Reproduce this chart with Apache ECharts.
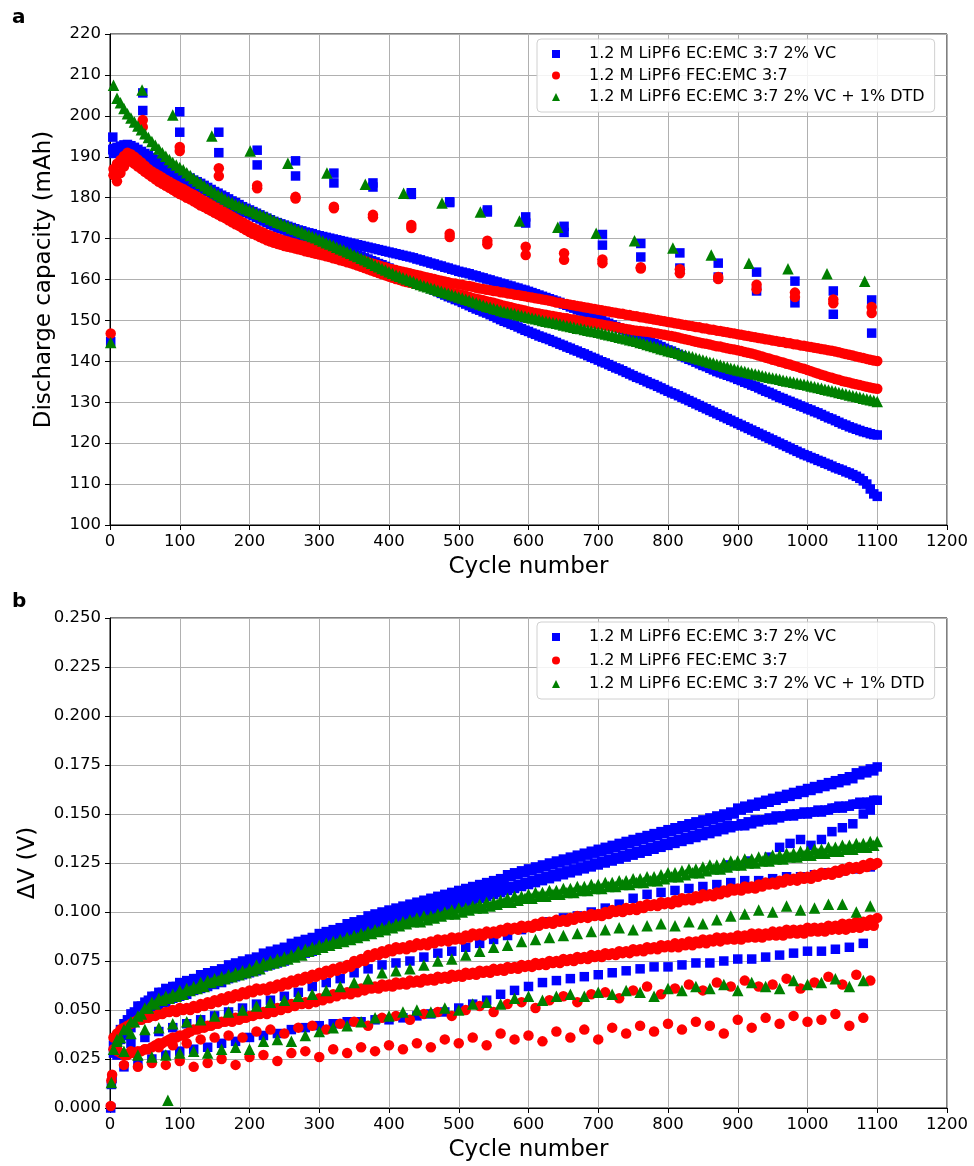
<!DOCTYPE html>
<html>
<head>
<meta charset="utf-8">
<title>capacity and dV</title>
<script src="https://cdn.jsdelivr.net/npm/echarts@6/dist/echarts.min.js"></script>
<style>
  body { margin: 0; background: #fff; }
  #chart { width: 974px; height: 1166px; }
</style>
</head>
<body>
<div id="chart"></div>
<script>
// legend names
var nameVC  = '1.2 M LiPF6 EC:EMC 3:7 2% VC';
var nameFEC = '1.2 M LiPF6 FEC:EMC 3:7';
var nameDTD = '1.2 M LiPF6 EC:EMC 3:7 2% VC + 1% DTD';

// cycle numbers of the dense series (two interleaved sets)
var cyc10 = [
  5,15,25,35,45,55,65,75,85,95,
  105,115,125,135,145,155,165,175,185,195,
  205,215,225,235,245,255,265,275,285,295,
  305,315,325,335,345,355,365,375,385,395,
  405,415,425,435,445,455,465,475,485,495,
  505,515,525,535,545,555,565,575,585,595,
  605,615,625,635,645,655,665,675,685,695,
  705,715,725,735,745,755,765,775,785,795,
  805,815,825,835,845,855,865,875,885,895,
  905,915,925,935,945,955,965,975,985,995,
  1005,1015,1025,1035,1045,1055,1065,1075,1085,1095
];
var cyc10b = [
  10,20,30,40,50,60,70,80,90,100,
  110,120,130,140,150,160,170,180,190,200,
  210,220,230,240,250,260,270,280,290,300,
  310,320,330,340,350,360,370,380,390,400,
  410,420,430,440,450,460,470,480,490,500,
  510,520,530,540,550,560,570,580,590,600,
  610,620,630,640,650,660,670,680,690,700,
  710,720,730,740,750,760,770,780,790,800,
  810,820,830,840,850,860,870,880,890,900,
  910,920,930,940,950,960,970,980,990,1000,
  1010,1020,1030,1040,1050,1060,1070,1080,1090,1100
];
// cycle numbers of the sparse series
var sp20 = [
  10,30,50,70,90,110,130,150,170,190,
  210,230,250,270,290,310,330,350,370,390,
  410,430,450,470,490,510,530,550,570,590,
  610,630,650,670,690,710,730,750,770,790,
  810,830,850,870,890,910,930,950,970,990,
  1010,1030,1050,1070,1090
];
var sp20b = [
  20,40,60,80,100,120,140,160,180,200,
  220,240,260,280,300,320,340,360,380,400,
  420,440,460,480,500,520,540,560,580,600,
  620,640,660,680,700,720,740,760,780,800,
  820,840,860,880,900,920,940,960,980,1000,
  1020,1040,1060,1080
];

// ---- panel a : discharge capacity (mAh) ----
var capBlueA = [
  192.0,192.6,193.0,192.3,191.3,190.3,189.4,188.5,187.6,186.7,
  185.7,184.8,183.9,183.0,182.0,181.1,180.2,179.2,178.3,177.4,
  176.6,175.8,175.0,174.2,173.6,173.0,172.4,171.9,171.4,170.9,
  170.5,170.1,169.7,169.3,168.9,168.5,168.1,167.7,167.3,166.9,
  166.5,166.1,165.7,165.3,164.8,164.3,163.8,163.3,162.8,162.3,
  161.8,161.4,160.9,160.4,159.9,159.4,158.9,158.4,157.9,157.4,
  156.8,156.2,155.6,155.0,154.4,153.7,153.0,152.3,151.6,150.8,
  150.0,149.3,148.5,147.8,147.0,146.3,145.5,144.7,144.0,143.2,
  142.5,141.7,140.9,140.2,139.4,138.7,137.9,137.2,136.6,136.0,
  135.3,134.6,133.9,133.1,132.4,131.6,130.9,130.2,129.5,128.8,
  128.1,127.4,126.6,125.9,125.1,124.4,123.7,123.1,122.6,122.1
];
var capBlueA2 = [
  192.3,192.9,192.7,191.8,190.8,189.8,188.9,188.1,187.1,186.2,
  185.2,184.3,183.5,182.5,181.5,180.6,179.7,178.8,177.8,177.0,
  176.2,175.4,174.6,173.9,173.3,172.7,172.1,171.6,171.2,170.7,
  170.3,169.9,169.5,169.1,168.7,168.3,167.9,167.5,167.1,166.7,
  166.3,165.9,165.5,165.0,164.5,164.0,163.5,163.0,162.5,162.0,
  161.6,161.1,160.6,160.1,159.6,159.1,158.6,158.1,157.6,157.1,
  156.5,155.9,155.3,154.7,154.0,153.3,152.6,151.9,151.2,150.4,
  149.6,148.9,148.1,147.4,146.6,145.9,145.1,144.3,143.6,142.8,
  142.1,141.3,140.5,139.8,139.0,138.3,137.5,136.9,136.3,135.6,
  134.9,134.2,133.5,132.7,132.0,131.2,130.5,129.8,129.1,128.4,
  127.7,127.0,126.2,125.5,124.7,124.0,123.4,122.8,122.3,122.0
];
var capBlueB = [
  190.8,191.6,192.2,191.5,190.6,189.6,188.6,187.6,186.6,185.6,
  184.6,183.7,182.8,181.9,181.0,180.0,178.8,177.6,177.0,176.4,
  175.6,174.8,173.9,173.1,172.4,171.8,171.2,170.6,170.0,169.5,
  169.0,168.4,167.8,167.2,166.6,166.0,165.3,164.6,163.9,163.2,
  162.4,161.6,160.7,159.9,159.0,158.2,157.4,156.6,155.8,155.1,
  154.4,153.6,152.8,152.1,151.4,150.6,149.8,149.1,148.4,147.6,
  146.9,146.2,145.6,144.9,144.2,143.5,142.8,142.1,141.4,140.7,
  139.9,139.2,138.4,137.7,136.9,136.1,135.4,134.6,133.9,133.1,
  132.3,131.6,130.8,130.0,129.2,128.4,127.6,126.8,126.0,125.2,
  124.4,123.6,122.8,122.0,121.2,120.4,119.6,118.8,118.0,117.2,
  116.5,115.8,115.1,114.4,113.7,113.0,112.3,111.4,110.0,107.6
];
var capBlueB2 = [
  191.2,191.9,191.9,191.0,190.1,189.1,188.1,187.1,186.1,185.1,
  184.2,183.3,182.4,181.5,180.5,179.4,178.2,177.3,176.7,176.0,
  175.2,174.3,173.5,172.7,172.1,171.5,170.9,170.3,169.8,169.3,
  168.7,168.1,167.5,166.9,166.3,165.7,165.0,164.3,163.6,162.8,
  162.0,161.1,160.3,159.5,158.6,157.8,157.0,156.2,155.5,154.8,
  154.0,153.2,152.5,151.8,151.0,150.2,149.5,148.8,148.0,147.3,
  146.6,145.9,145.3,144.6,143.9,143.2,142.5,141.8,141.0,140.3,
  139.6,138.8,138.1,137.3,136.5,135.8,135.0,134.3,133.5,132.7,
  132.0,131.2,130.4,129.6,128.8,128.0,127.2,126.4,125.6,124.8,
  124.0,123.2,122.4,121.6,120.8,120.0,119.2,118.4,117.6,116.9,
  116.2,115.5,114.8,114.0,113.4,112.7,111.9,110.8,108.8,107.0
];
var capRedA = [
  187.0,189.2,191.0,190.0,188.6,187.0,185.9,184.9,183.9,183.0,
  182.1,181.1,180.2,179.2,178.3,177.4,176.4,175.4,174.4,173.5,
  172.6,171.8,171.0,170.4,169.8,169.3,168.8,168.3,167.9,167.5,
  167.1,166.7,166.3,165.9,165.5,165.0,164.5,164.0,163.5,163.0,
  162.5,162.1,161.7,161.3,160.9,160.5,160.1,159.7,159.3,159.0,
  158.7,158.4,158.0,157.7,157.4,157.1,156.8,156.5,156.2,155.9,
  155.6,155.3,155.0,154.6,154.3,154.0,153.7,153.4,153.1,152.8,
  152.5,152.2,151.9,151.6,151.3,151.0,150.7,150.4,150.1,149.8,
  149.5,149.2,148.9,148.6,148.3,148.0,147.7,147.4,147.1,146.8,
  146.5,146.2,145.9,145.6,145.3,145.0,144.7,144.4,144.1,143.8,
  143.5,143.2,142.9,142.6,142.2,141.8,141.4,141.0,140.6,140.2
];
var capRedA2 = [
  188.3,190.2,190.6,189.3,187.8,186.4,185.4,184.4,183.4,182.5,
  181.6,180.7,179.7,178.8,177.8,176.9,175.9,174.9,174.0,173.0,
  172.2,171.4,170.7,170.1,169.5,169.0,168.5,168.1,167.7,167.3,
  166.9,166.5,166.1,165.7,165.2,164.7,164.2,163.7,163.2,162.7,
  162.3,161.9,161.5,161.1,160.7,160.3,159.9,159.5,159.1,158.8,
  158.5,158.2,157.8,157.5,157.2,156.9,156.6,156.3,156.0,155.7,
  155.4,155.1,154.8,154.4,154.1,153.8,153.5,153.2,152.9,152.6,
  152.3,152.0,151.7,151.4,151.1,150.8,150.5,150.2,149.9,149.6,
  149.3,149.0,148.7,148.4,148.1,147.8,147.5,147.2,146.9,146.6,
  146.3,146.0,145.7,145.4,145.1,144.8,144.5,144.2,143.9,143.6,
  143.3,143.0,142.7,142.4,142.0,141.6,141.2,140.8,140.4,140.1
];
var capRedB = [
  185.5,186.0,189.0,188.3,187.0,185.7,184.5,183.4,182.4,181.4,
  180.5,179.6,178.6,177.7,176.8,175.9,175.0,174.0,173.1,172.1,
  171.2,170.4,169.6,169.0,168.5,168.0,167.6,167.2,166.7,166.3,
  165.9,165.5,165.0,164.5,164.0,163.4,162.8,162.2,161.6,161.0,
  160.4,159.9,159.4,159.0,158.6,158.2,157.8,157.4,157.0,156.6,
  156.2,155.8,155.3,154.9,154.5,154.1,153.6,153.2,152.8,152.4,
  152.0,151.7,151.4,151.1,150.8,150.5,150.2,149.9,149.6,149.3,
  149.0,148.7,148.4,148.1,147.8,147.5,147.3,147.1,146.8,146.5,
  146.2,145.8,145.4,145.0,144.6,144.3,143.9,143.6,143.2,142.9,
  142.5,142.1,141.7,141.2,140.7,140.2,139.7,139.2,138.7,138.2,
  137.6,137.0,136.5,136.0,135.5,135.0,134.6,134.2,133.8,133.4
];
var capRedB2 = [
  184.0,187.6,188.8,187.6,186.3,185.1,183.9,182.9,181.9,180.9,
  180.0,179.1,178.1,177.2,176.3,175.4,174.5,173.5,172.6,171.6,
  170.8,170.0,169.3,168.7,168.2,167.8,167.4,166.9,166.5,166.1,
  165.7,165.2,164.7,164.2,163.7,163.1,162.5,161.9,161.3,160.7,
  160.1,159.6,159.2,158.8,158.4,158.0,157.6,157.2,156.8,156.4,
  156.0,155.5,155.1,154.7,154.3,153.8,153.4,153.0,152.6,152.2,
  151.8,151.5,151.2,150.9,150.6,150.3,150.0,149.7,149.4,149.1,
  148.8,148.5,148.2,147.9,147.6,147.4,147.2,146.9,146.6,146.3,
  146.0,145.6,145.2,144.8,144.4,144.1,143.7,143.4,143.0,142.7,
  142.3,141.9,141.4,140.9,140.4,139.9,139.4,138.9,138.4,137.9,
  137.3,136.7,136.2,135.7,135.2,134.8,134.4,134.0,133.6,133.3
];
var capGreen = [
  207.5,203.2,200.5,198.5,196.6,194.7,192.8,191.0,189.3,188.0,
  186.8,185.4,184.1,182.9,181.8,180.7,179.7,178.8,178.0,177.3,
  176.6,175.9,175.2,174.4,173.7,173.0,172.3,171.6,170.9,170.2,
  169.4,168.7,167.9,167.2,166.4,165.6,164.8,164.0,163.1,162.3,
  161.5,160.8,160.1,159.5,158.8,158.2,157.7,157.1,156.6,156.0,
  155.5,154.9,154.3,153.7,153.2,152.7,152.2,151.8,151.4,151.0,
  150.6,150.2,149.8,149.5,149.1,148.7,148.3,148.0,147.6,147.3,
  146.9,146.5,146.1,145.7,145.3,144.9,144.4,143.9,143.4,142.9,
  142.4,142.0,141.5,141.1,140.6,140.1,139.6,139.1,138.6,138.1,
  137.7,137.3,136.9,136.5,136.1,135.8,135.4,135.1,134.7,134.4,
  134.0,133.6,133.2,132.8,132.4,132.0,131.6,131.2,130.8,130.4
];
var capGreen2 = [
  204.3,201.8,199.5,197.5,195.6,193.7,191.9,190.1,188.6,187.4,
  186.1,184.7,183.5,182.3,181.2,180.2,179.2,178.4,177.6,176.9,
  176.2,175.5,174.8,174.0,173.3,172.6,171.9,171.2,170.5,169.8,
  169.0,168.3,167.5,166.8,166.0,165.2,164.4,163.5,162.7,161.9,
  161.1,160.4,159.8,159.1,158.5,157.9,157.4,156.8,156.3,155.7,
  155.2,154.6,154.0,153.4,152.9,152.4,152.0,151.6,151.2,150.8,
  150.4,150.0,149.6,149.3,148.9,148.5,148.1,147.8,147.4,147.1,
  146.7,146.3,145.9,145.5,145.1,144.6,144.1,143.6,143.1,142.6,
  142.2,141.7,141.3,140.8,140.3,139.8,139.3,138.8,138.3,137.9,
  137.5,137.1,136.7,136.3,135.9,135.6,135.2,134.9,134.5,134.2,
  133.8,133.4,133.0,132.6,132.2,131.8,131.4,131.0,130.6,130.2
];

// slow check-up cycles (two cells per electrolyte)
var rptCycBlue = [4,47,100,156,211,266,321,377,432,487,541,596,651,706,761,817,872,927,982,1037,1092];
var rptBlueHi  = [194.8,205.6,201.0,196.0,191.6,189.0,186.0,183.6,181.2,179.0,177.0,175.3,173.0,171.0,168.8,166.5,164.0,161.8,159.6,157.2,155.0];
var rptBlueLo  = [191.7,201.3,196.0,191.0,188.0,185.3,183.6,182.6,180.8,178.8,176.5,173.8,171.5,168.4,165.5,162.8,160.6,157.2,154.3,151.5,146.9];
var rptCycRed  = [47,100,156,211,266,321,377,432,487,541,596,651,706,761,817,872,927,982,1037,1092];
var rptRedHi   = [199.0,192.4,187.2,183.0,180.2,177.8,175.8,173.3,171.2,169.5,168.0,166.4,164.9,163.0,162.5,160.6,158.7,156.8,155.1,153.3];
var rptRedLo   = [197.3,191.4,185.3,182.3,179.8,177.4,175.2,172.6,170.4,168.6,166.0,164.8,164.0,162.7,161.5,160.1,157.6,155.7,154.2,151.8];
var rptCycGreen = [46,90,146,201,255,311,366,421,476,531,587,642,697,752,807,862,916,972,1028,1082];
var rptGreen    = [206.3,200.2,195.1,191.4,188.4,186.0,183.3,181.1,178.7,176.5,174.3,172.8,171.3,169.5,167.7,166.0,164.0,162.6,161.4,159.6];

// formation cycle
var formCyc = [1];
var formBlue = [144.8];
var formRed = [146.8];
var formGreen = [144.6];

// ---- panel b : delta V (V) ----
var dvBlueA = [
  0.032,0.040,0.045,0.049,0.052,0.055,0.057,0.059,0.060,0.062,
  0.063,0.064,0.066,0.067,0.068,0.069,0.070,0.072,0.073,0.074,
  0.075,0.076,0.078,0.079,0.080,0.081,0.083,0.084,0.085,0.086,
  0.088,0.089,0.090,0.091,0.093,0.094,0.095,0.097,0.098,0.099,
  0.100,0.101,0.102,0.103,0.104,0.105,0.106,0.107,0.108,0.109,
  0.110,0.111,0.112,0.113,0.114,0.115,0.116,0.118,0.119,0.120,
  0.121,0.122,0.123,0.124,0.125,0.126,0.127,0.128,0.129,0.130,
  0.131,0.132,0.133,0.134,0.135,0.136,0.137,0.138,0.139,0.140,
  0.141,0.142,0.143,0.144,0.145,0.146,0.147,0.148,0.149,0.150,
  0.152,0.153,0.154,0.155,0.156,0.157,0.158,0.159,0.160,0.161,
  0.162,0.163,0.164,0.165,0.166,0.167,0.168,0.170,0.171,0.172
];
var dvBlueA2 = [
  0.036,0.043,0.048,0.052,0.054,0.057,0.059,0.061,0.062,0.064,
  0.065,0.066,0.068,0.069,0.070,0.071,0.073,0.074,0.075,0.076,
  0.077,0.079,0.080,0.081,0.082,0.084,0.085,0.086,0.087,0.089,
  0.090,0.091,0.092,0.094,0.095,0.096,0.098,0.099,0.100,0.101,
  0.102,0.103,0.104,0.105,0.106,0.107,0.108,0.109,0.110,0.111,
  0.112,0.113,0.114,0.115,0.116,0.117,0.119,0.120,0.121,0.122,
  0.123,0.124,0.125,0.126,0.127,0.128,0.129,0.130,0.131,0.132,
  0.133,0.134,0.135,0.136,0.137,0.138,0.139,0.140,0.141,0.142,
  0.143,0.144,0.145,0.146,0.147,0.148,0.149,0.150,0.151,0.153,
  0.154,0.155,0.156,0.157,0.158,0.159,0.160,0.161,0.162,0.163,
  0.164,0.165,0.166,0.167,0.168,0.169,0.171,0.172,0.173,0.174
];
var dvBlueB = [
  0.028,0.035,0.040,0.044,0.047,0.050,0.052,0.054,0.056,0.058,
  0.059,0.060,0.062,0.063,0.064,0.065,0.066,0.068,0.069,0.070,
  0.071,0.072,0.074,0.075,0.076,0.077,0.079,0.080,0.081,0.082,
  0.084,0.085,0.086,0.087,0.089,0.090,0.091,0.093,0.094,0.095,
  0.096,0.097,0.098,0.099,0.100,0.101,0.102,0.103,0.104,0.105,
  0.106,0.107,0.108,0.109,0.110,0.111,0.112,0.113,0.114,0.115,
  0.116,0.117,0.118,0.119,0.120,0.121,0.122,0.123,0.124,0.125,
  0.126,0.127,0.128,0.129,0.130,0.131,0.132,0.133,0.134,0.135,
  0.136,0.137,0.138,0.139,0.140,0.141,0.142,0.143,0.144,0.144,
  0.145,0.146,0.147,0.147,0.148,0.149,0.149,0.150,0.150,0.151,
  0.151,0.152,0.152,0.153,0.154,0.154,0.155,0.156,0.156,0.157
];
var dvBlueB2 = [
  0.030,0.037,0.041,0.045,0.048,0.050,0.052,0.054,0.056,0.057,
  0.058,0.060,0.061,0.062,0.063,0.064,0.066,0.067,0.068,0.069,
  0.070,0.072,0.073,0.074,0.075,0.077,0.078,0.079,0.080,0.082,
  0.083,0.084,0.085,0.087,0.088,0.089,0.091,0.092,0.093,0.094,
  0.095,0.096,0.097,0.098,0.099,0.100,0.101,0.102,0.103,0.104,
  0.105,0.106,0.107,0.108,0.109,0.110,0.111,0.112,0.113,0.114,
  0.115,0.116,0.117,0.118,0.119,0.120,0.121,0.122,0.123,0.124,
  0.125,0.126,0.127,0.128,0.129,0.130,0.131,0.132,0.133,0.134,
  0.135,0.136,0.137,0.138,0.139,0.140,0.141,0.142,0.143,0.144,
  0.144,0.145,0.146,0.147,0.147,0.148,0.149,0.149,0.150,0.150,
  0.151,0.151,0.152,0.153,0.153,0.154,0.155,0.155,0.156,0.157
];
var dvBlueC = [
  0.027,0.033,0.036,0.039,0.041,0.043,0.045,0.047,0.049,0.051,
  0.053,0.055,0.057,0.059,0.062,0.064,0.066,0.069,0.071,0.073,
  0.074,0.075,0.077,0.079,0.080,0.082,0.084,0.086,0.088,0.091,
  0.093,0.095,0.097,0.098,0.100,0.102,0.104,0.107,0.109,0.110,
  0.111,0.112,0.113,0.114,0.115,0.116,0.116,0.117,0.118,0.118,
  0.119,0.120,0.121,0.122,0.123
];
var dvBlueD = [
  0.021,0.023,0.025,0.027,0.029,0.030,0.031,0.033,0.034,0.036,
  0.037,0.038,0.040,0.041,0.042,0.043,0.044,0.044,0.045,0.045,
  0.046,0.047,0.048,0.049,0.051,0.053,0.055,0.058,0.060,0.062,
  0.064,0.065,0.066,0.067,0.068,0.069,0.070,0.071,0.072,0.072,
  0.073,0.074,0.074,0.075,0.076,0.076,0.077,0.078,0.079,0.080,
  0.080,0.081,0.082,0.084,0.087
];
var dvBlueECyc = [885,915,945,960,975,990,1005,1020,1035,1050,1065,1080,1090];
var dvBlueE    = [0.124,0.126,0.128,0.133,0.135,0.137,0.134,0.137,0.141,0.143,0.145,0.150,0.152];

var dvRedA = [
  0.036,0.040,0.042,0.044,0.045,0.046,0.047,0.048,0.049,0.049,
  0.050,0.050,0.051,0.052,0.053,0.054,0.055,0.056,0.057,0.058,
  0.059,0.060,0.060,0.061,0.062,0.063,0.064,0.065,0.066,0.067,
  0.068,0.069,0.070,0.071,0.072,0.074,0.075,0.077,0.078,0.079,
  0.080,0.081,0.081,0.082,0.083,0.083,0.084,0.085,0.085,0.086,
  0.086,0.087,0.088,0.088,0.089,0.089,0.090,0.091,0.091,0.092,
  0.092,0.093,0.094,0.094,0.095,0.095,0.096,0.097,0.097,0.098,
  0.098,0.099,0.100,0.100,0.101,0.101,0.102,0.103,0.103,0.104,
  0.104,0.105,0.106,0.106,0.107,0.108,0.108,0.109,0.110,0.111,
  0.111,0.112,0.112,0.113,0.114,0.114,0.115,0.116,0.116,0.117,
  0.117,0.118,0.119,0.119,0.120,0.121,0.122,0.122,0.123,0.124
];
var dvRedA2 = [
  0.038,0.041,0.043,0.045,0.046,0.047,0.048,0.049,0.050,0.051,
  0.051,0.052,0.053,0.054,0.055,0.056,0.057,0.058,0.059,0.060,
  0.061,0.061,0.062,0.063,0.064,0.065,0.066,0.067,0.068,0.069,
  0.070,0.071,0.072,0.073,0.075,0.076,0.078,0.079,0.080,0.081,
  0.082,0.082,0.083,0.084,0.084,0.085,0.086,0.086,0.087,0.087,
  0.088,0.089,0.089,0.090,0.090,0.091,0.092,0.092,0.093,0.093,
  0.094,0.095,0.095,0.096,0.096,0.097,0.098,0.098,0.099,0.099,
  0.100,0.101,0.101,0.102,0.102,0.103,0.104,0.104,0.105,0.105,
  0.106,0.107,0.107,0.108,0.109,0.109,0.110,0.111,0.112,0.112,
  0.113,0.113,0.114,0.115,0.115,0.116,0.117,0.117,0.118,0.118,
  0.119,0.120,0.120,0.121,0.122,0.123,0.123,0.124,0.125,0.125
];
var dvRedB = [
  0.030,0.028,0.027,0.028,0.029,0.030,0.032,0.033,0.035,0.036,
  0.037,0.039,0.040,0.041,0.042,0.043,0.044,0.044,0.045,0.046,
  0.047,0.048,0.048,0.049,0.050,0.051,0.052,0.053,0.053,0.054,
  0.055,0.056,0.057,0.058,0.058,0.059,0.060,0.061,0.061,0.062,
  0.062,0.063,0.063,0.064,0.064,0.065,0.065,0.066,0.066,0.067,
  0.067,0.068,0.068,0.069,0.069,0.070,0.070,0.071,0.071,0.072,
  0.072,0.073,0.073,0.074,0.074,0.075,0.075,0.076,0.076,0.077,
  0.077,0.078,0.078,0.079,0.079,0.080,0.080,0.081,0.081,0.082,
  0.082,0.082,0.083,0.083,0.084,0.084,0.085,0.085,0.086,0.086,
  0.086,0.087,0.087,0.087,0.088,0.088,0.088,0.089,0.089,0.089,
  0.090,0.090,0.090,0.091,0.091,0.091,0.092,0.092,0.093,0.093
];
var dvRedB2 = [
  0.029,0.027,0.028,0.029,0.030,0.031,0.033,0.034,0.036,0.037,
  0.038,0.040,0.041,0.042,0.043,0.044,0.045,0.046,0.046,0.047,
  0.048,0.049,0.050,0.051,0.052,0.053,0.054,0.054,0.055,0.056,
  0.057,0.058,0.059,0.059,0.060,0.061,0.062,0.062,0.063,0.063,
  0.064,0.064,0.065,0.065,0.066,0.066,0.067,0.067,0.068,0.068,
  0.069,0.069,0.070,0.070,0.071,0.071,0.072,0.072,0.073,0.073,
  0.074,0.074,0.075,0.075,0.076,0.076,0.077,0.077,0.078,0.078,
  0.079,0.079,0.080,0.080,0.081,0.081,0.082,0.082,0.083,0.083,
  0.084,0.084,0.085,0.085,0.086,0.086,0.087,0.087,0.087,0.088,
  0.088,0.089,0.089,0.089,0.090,0.090,0.091,0.091,0.091,0.092,
  0.092,0.092,0.093,0.093,0.094,0.094,0.095,0.095,0.096,0.097
];
var dvRedC = [
  0.030,0.029,0.030,0.031,0.032,0.033,0.035,0.036,0.037,0.036,
  0.039,0.040,0.038,0.041,0.042,0.040,0.043,0.044,0.042,0.046,
  0.047,0.045,0.048,0.049,0.047,0.050,0.052,0.049,0.053,0.054,
  0.051,0.055,0.057,0.054,0.058,0.059,0.056,0.060,0.062,0.058,
  0.061,0.063,0.060,0.064,0.062,0.065,0.062,0.063,0.066,0.061,
  0.064,0.067,0.063,0.068,0.065
];
var dvRedD = [
  0.022,0.021,0.023,0.022,0.024,0.021,0.023,0.025,0.022,0.026,
  0.027,0.024,0.028,0.029,0.026,0.030,0.028,0.031,0.029,0.032,
  0.030,0.033,0.031,0.035,0.033,0.036,0.032,0.038,0.035,0.037,
  0.034,0.039,0.036,0.040,0.035,0.041,0.038,0.042,0.039,0.043,
  0.040,0.044,0.042,0.038,0.045,0.041,0.046,0.043,0.047,0.044,
  0.045,0.048,0.042,0.046
];

var dvGreenA = [
  0.030,0.036,0.041,0.044,0.048,0.051,0.053,0.055,0.056,0.057,
  0.058,0.060,0.061,0.062,0.064,0.065,0.066,0.067,0.068,0.069,
  0.070,0.071,0.073,0.074,0.075,0.076,0.077,0.078,0.080,0.081,
  0.082,0.083,0.084,0.085,0.086,0.087,0.088,0.089,0.090,0.091,
  0.092,0.093,0.094,0.095,0.095,0.096,0.097,0.098,0.099,0.099,
  0.100,0.101,0.102,0.102,0.103,0.104,0.105,0.105,0.106,0.107,
  0.107,0.108,0.108,0.109,0.109,0.110,0.110,0.111,0.111,0.112,
  0.112,0.113,0.113,0.114,0.114,0.115,0.115,0.116,0.116,0.117,
  0.118,0.118,0.119,0.120,0.120,0.121,0.122,0.122,0.123,0.124,
  0.124,0.125,0.125,0.126,0.126,0.127,0.127,0.128,0.128,0.129,
  0.129,0.130,0.130,0.131,0.131,0.132,0.132,0.133,0.133,0.134
];
var dvGreenA2 = [
  0.034,0.040,0.044,0.047,0.051,0.054,0.056,0.057,0.058,0.060,
  0.061,0.062,0.064,0.065,0.066,0.067,0.068,0.069,0.070,0.071,
  0.073,0.074,0.075,0.076,0.077,0.078,0.080,0.081,0.082,0.083,
  0.084,0.085,0.086,0.087,0.088,0.089,0.090,0.091,0.092,0.093,
  0.094,0.095,0.096,0.097,0.098,0.098,0.099,0.100,0.101,0.102,
  0.102,0.103,0.104,0.105,0.105,0.106,0.107,0.108,0.108,0.109,
  0.110,0.110,0.111,0.111,0.112,0.112,0.113,0.113,0.114,0.114,
  0.115,0.115,0.116,0.116,0.117,0.117,0.118,0.118,0.119,0.120,
  0.120,0.121,0.122,0.122,0.123,0.124,0.124,0.125,0.126,0.126,
  0.127,0.127,0.128,0.128,0.129,0.129,0.130,0.130,0.131,0.131,
  0.132,0.132,0.133,0.133,0.134,0.134,0.135,0.135,0.136,0.136
];
var dvGreenB = [
  0.035,0.038,0.040,0.041,0.043,0.044,0.045,0.047,0.049,0.050,
  0.052,0.054,0.055,0.057,0.058,0.060,0.062,0.064,0.066,0.069,
  0.070,0.071,0.073,0.075,0.076,0.078,0.080,0.082,0.083,0.085,
  0.086,0.087,0.088,0.089,0.090,0.091,0.092,0.091,0.093,0.094,
  0.093,0.095,0.094,0.096,0.098,0.099,0.101,0.100,0.103,0.101,
  0.102,0.104,0.104,0.100,0.103
];
var dvGreenC = [
  0.029,0.027,0.026,0.027,0.028,0.029,0.028,0.030,0.031,0.030,
  0.034,0.035,0.034,0.037,0.039,0.041,0.042,0.044,0.046,0.047,
  0.049,0.050,0.049,0.051,0.050,0.053,0.054,0.053,0.056,0.057,
  0.055,0.057,0.058,0.057,0.059,0.058,0.060,0.059,0.057,0.061,
  0.060,0.062,0.061,0.063,0.060,0.064,0.062,0.061,0.065,0.063,
  0.064,0.066,0.062,0.065
];

// first cycles / outliers near zero
var lowCyc = [1, 2, 3];
var lowBlue = [0.000, 0.012, 0.015];
var lowRed = [0.001, 0.014, 0.017];
var lowGreenCyc = [2, 83];
var lowGreen = [0.013, 0.004];

var blue = '#0000ff', red = '#ff0000', green = '#008000';
var fontName = 'DejaVu Sans';

function pts(xs, ys) {
  return xs.map(function (x, i) { return [x, ys[i]]; });
}

function sc(name, color, symbol, size, xs, ys, idx) {
  return {
    type: 'scatter',
    name: name,
    xAxisIndex: idx,
    yAxisIndex: idx,
    symbol: symbol,
    symbolSize: size,
    itemStyle: { color: color, opacity: 1 },
    emphasis: { disabled: true },
    silent: true,
    data: pts(xs, ys)
  };
}

var SQ = 9.5, CI = 10.5, TR = 11.5;

var series = [
  // panel a
  sc(nameVC, blue, 'rect', SQ, cyc10, capBlueA, 0),
  sc(nameVC, blue, 'rect', SQ, cyc10b, capBlueA2, 0),
  sc(nameVC, blue, 'rect', SQ, cyc10, capBlueB, 0),
  sc(nameVC, blue, 'rect', SQ, cyc10b, capBlueB2, 0),
  sc(nameVC, blue, 'rect', SQ, rptCycBlue, rptBlueHi, 0),
  sc(nameVC, blue, 'rect', SQ, rptCycBlue, rptBlueLo, 0),
  sc(nameVC, blue, 'rect', SQ, formCyc, formBlue, 0),
  sc(nameFEC, red, 'circle', CI, cyc10, capRedA, 0),
  sc(nameFEC, red, 'circle', CI, cyc10b, capRedA2, 0),
  sc(nameFEC, red, 'circle', CI, cyc10, capRedB, 0),
  sc(nameFEC, red, 'circle', CI, cyc10b, capRedB2, 0),
  sc(nameFEC, red, 'circle', CI, rptCycRed, rptRedHi, 0),
  sc(nameFEC, red, 'circle', CI, rptCycRed, rptRedLo, 0),
  sc(nameFEC, red, 'circle', CI, formCyc, formRed, 0),
  sc(nameDTD, green, 'triangle', TR, cyc10, capGreen, 0),
  sc(nameDTD, green, 'triangle', TR, cyc10b, capGreen2, 0),
  sc(nameDTD, green, 'triangle', TR, rptCycGreen, rptGreen, 0),
  sc(nameDTD, green, 'triangle', TR, formCyc, formGreen, 0),
  // panel b
  sc(nameVC, blue, 'rect', SQ, sp20b, dvBlueD, 1),
  sc(nameVC, blue, 'rect', SQ, sp20, dvBlueC, 1),
  sc(nameVC, blue, 'rect', SQ, cyc10, dvBlueB, 1),
  sc(nameVC, blue, 'rect', SQ, cyc10b, dvBlueB2, 1),
  sc(nameVC, blue, 'rect', SQ, cyc10, dvBlueA, 1),
  sc(nameVC, blue, 'rect', SQ, cyc10b, dvBlueA2, 1),
  sc(nameVC, blue, 'rect', SQ, dvBlueECyc, dvBlueE, 1),
  sc(nameVC, blue, 'rect', SQ, lowCyc, lowBlue, 1),
  sc(nameFEC, red, 'circle', CI, sp20b, dvRedD, 1),
  sc(nameFEC, red, 'circle', CI, sp20, dvRedC, 1),
  sc(nameFEC, red, 'circle', CI, cyc10, dvRedB, 1),
  sc(nameFEC, red, 'circle', CI, cyc10b, dvRedB2, 1),
  sc(nameFEC, red, 'circle', CI, cyc10, dvRedA, 1),
  sc(nameFEC, red, 'circle', CI, cyc10b, dvRedA2, 1),
  sc(nameFEC, red, 'circle', CI, lowCyc, lowRed, 1),
  sc(nameDTD, green, 'triangle', TR, sp20b, dvGreenC, 1),
  sc(nameDTD, green, 'triangle', TR, sp20, dvGreenB, 1),
  sc(nameDTD, green, 'triangle', TR, cyc10, dvGreenA, 1),
  sc(nameDTD, green, 'triangle', TR, cyc10b, dvGreenA2, 1),
  sc(nameDTD, green, 'triangle', TR, lowGreenCyc, lowGreen, 1)
];

function xAx(idx) {
  return {
    type: 'value', gridIndex: idx, min: 0, max: 1200, interval: 100,
    name: 'Cycle number', nameLocation: 'middle', nameGap: 31,
    nameTextStyle: { fontFamily: fontName, fontSize: 23, color: '#000' },
    axisLine: { show: true, lineStyle: { color: '#000', width: 1 } },
    axisTick: { show: true, length: 5, lineStyle: { color: '#000' } },
    axisLabel: {
      fontFamily: fontName, fontSize: 16.5, color: '#000', margin: 8,
      formatter: function (v) { return String(v); }
    },
    splitLine: { show: true, lineStyle: { color: '#b0b0b0', width: 1 } }
  };
}

var legendBase = {
  orient: 'vertical',
  left: 537,
  data: [nameVC, nameFEC, nameDTD],
  itemWidth: 8, itemHeight: 8,
  padding: [7, 10, 7, 15],
  backgroundColor: 'rgba(255,255,255,0.85)',
  borderColor: '#d0d0d0', borderWidth: 1, borderRadius: 4,
  textStyle: { fontFamily: fontName, fontSize: 16, color: '#000', lineHeight: 16, padding: [0, 0, 0, 24] },
  selectedMode: false
};

var option = {
  animation: false,
  backgroundColor: '#fff',
  grid: [
    { left: 110, top: 34, width: 837, height: 491, show: true, borderColor: '#000', borderWidth: 1, backgroundColor: 'transparent' },
    { left: 110, top: 618, width: 837, height: 490, show: true, borderColor: '#000', borderWidth: 1, backgroundColor: 'transparent' }
  ],
  xAxis: [xAx(0), xAx(1)],
  yAxis: [
    {
      type: 'value', gridIndex: 0, min: 100, max: 220, interval: 10,
      name: 'Discharge capacity (mAh)', nameLocation: 'middle', nameGap: 54,
      nameTextStyle: { fontFamily: fontName, fontSize: 23, color: '#000' },
      axisLine: { show: true, lineStyle: { color: '#000', width: 1 } },
      axisTick: { show: true, length: 5, lineStyle: { color: '#000' } },
      axisLabel: { fontFamily: fontName, fontSize: 16.5, color: '#000', margin: 9 },
      splitLine: { show: true, lineStyle: { color: '#b0b0b0', width: 1 } }
    },
    {
      type: 'value', gridIndex: 1, min: 0, max: 0.25, interval: 0.025,
      name: 'ΔV (V)', nameLocation: 'middle', nameGap: 70,
      nameTextStyle: { fontFamily: fontName, fontSize: 23, color: '#000' },
      axisLine: { show: true, lineStyle: { color: '#000', width: 1 } },
      axisTick: { show: true, length: 5, lineStyle: { color: '#000' } },
      axisLabel: {
        fontFamily: fontName, fontSize: 16.5, color: '#000', margin: 9,
        formatter: function (v) { return v.toFixed(3); }
      },
      splitLine: { show: true, lineStyle: { color: '#b0b0b0', width: 1 } }
    }
  ],
  legend: [
    Object.assign({}, legendBase, { top: 39, itemGap: 5.5 }),
    Object.assign({}, legendBase, { top: 622, itemGap: 7.5 })
  ],
  graphic: [
    { type: 'text', left: 12, top: 8, style: { text: 'a', font: 'bold 20px "DejaVu Sans"', fill: '#000' } },
    { type: 'text', left: 12, top: 592, style: { text: 'b', font: 'bold 20px "DejaVu Sans"', fill: '#000' } }
  ],
  series: series
};

var chart = echarts.init(document.getElementById('chart'));
chart.setOption(option);
</script>
</body>
</html>
